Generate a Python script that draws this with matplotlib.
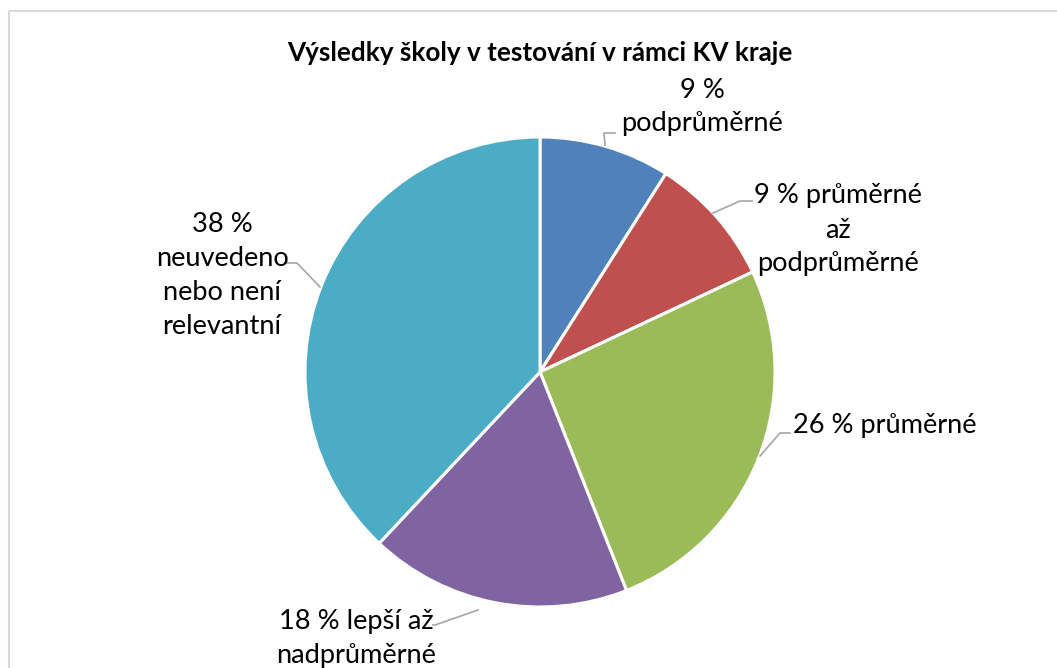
import matplotlib
matplotlib.use("Agg")
import matplotlib.pyplot as plt
import numpy as np

title = "Výsledky školy v testování v rámci KV kraje"
categories = ["podprůměrné", "průměrné až podprůměrné", "průměrné",
              "lepší až nadprůměrné", "neuvedeno nebo není relevantní"]
values = [9, 9, 26, 18, 38]
colors = ["#4F81BD", "#C0504D", "#9BBB59", "#8064A2", "#4BACC6"]
label_texts = ["9 %\npodprůměrné", "9 % průměrné\naž\npodprůměrné",
               "26 % průměrné", "18 % lepší až\nnadprůměrné",
               "38 %\nneuvedeno\nnebo není\nrelevantní"]

W, H = 1057, 668
plt.rcParams['font.family'] = ['Lato', 'DejaVu Sans']
fig = plt.figure(figsize=(W / 100, H / 100), dpi=100)
ax = fig.add_axes([0, 0, 1, 1])

def Y(y):
    return H - y

cx, cy, R = 540, 372, 235
ax.pie(values, colors=colors, startangle=90, counterclock=False,
       center=(cx, Y(cy)), radius=R,
       wedgeprops=dict(edgecolor="white", linewidth=2.2))
ax.set_xlim(0, W)
ax.set_ylim(0, H)
ax.set_aspect("equal")
ax.axis("off")

# border
bc = "#D9D9D9"
ax.plot([9, W + 5], [Y(11), Y(11)], color=bc, lw=1.5, solid_capstyle="butt")
ax.plot([9, 9], [Y(11), -5], color=bc, lw=1.5, solid_capstyle="butt")

ax.text(540, Y(53), title, ha="center", va="center", fontsize=18.8,
        fontweight="bold", color="black")

# labels: (x, y) centres in pixel layout
label_pos = [(702, 107), (838, 230), (885, 426), (356, 639), (222, 275)]
leaders = [
    [(605, 145), (604, 133), (615, 133)],
    [(713, 213), (740, 201), (752, 201)],
    [(760, 456), (780, 433), (790, 433)],
    [(478, 610), (435, 625), (433, 625)],
    [(320, 287), (297, 263), (285, 263)],
]
for (x, y), t in zip(label_pos, label_texts):
    ax.text(x, Y(y), t, ha="center", va="center", multialignment="center",
            fontsize=19.6, color="black", linespacing=1.45)
for pts in leaders:
    xs = [p[0] for p in pts]
    ys = [Y(p[1]) for p in pts]
    ax.plot(xs, ys, color="#A6A6A6", lw=1.2)

fig.savefig("out.png", dpi=100)
